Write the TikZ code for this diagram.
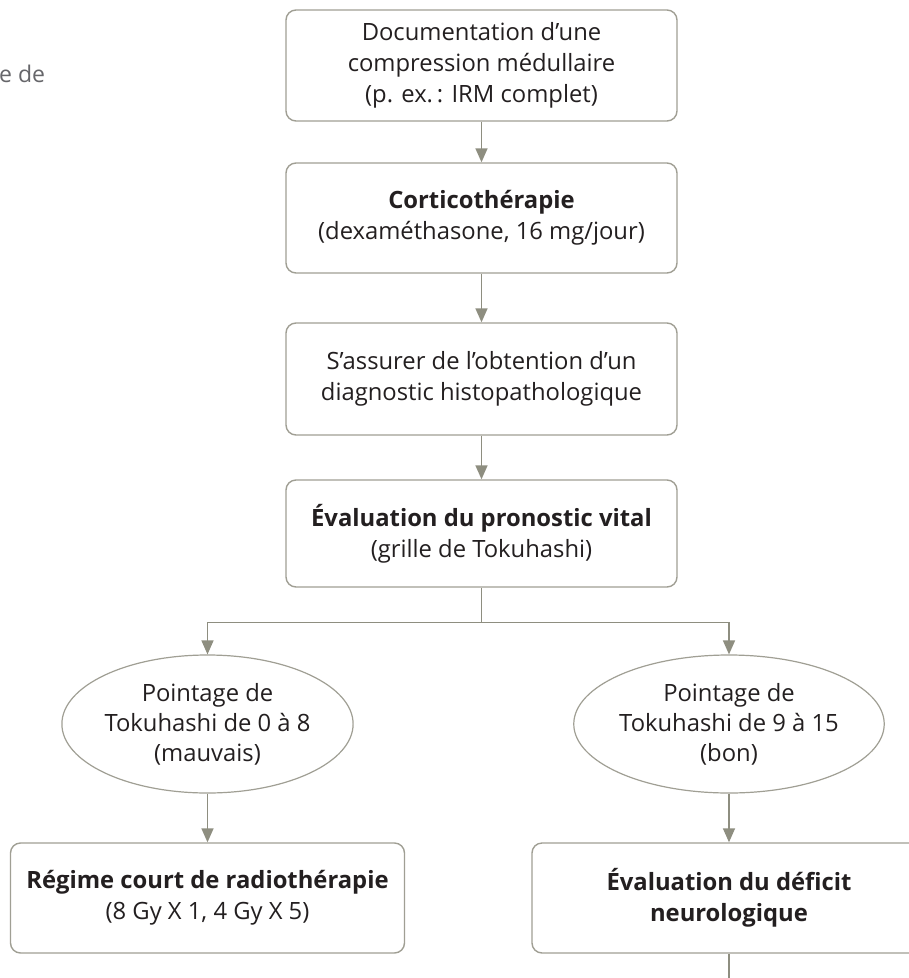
\documentclass[tikz,border=0pt]{standalone}
\usepackage{fontspec}
\setmainfont{Open Sans}
\usetikzlibrary{arrows.meta,shapes.geometric}
\definecolor{edgec}{HTML}{A09F94}
\definecolor{connc}{HTML}{8E8E80}
\definecolor{ink}{HTML}{231F20}
\definecolor{faint}{HTML}{66666A}
\begin{document}
\begin{tikzpicture}[x=1pt,y=-1pt,
  box/.style={draw=edgec, line width=1.4pt, rounded corners=10pt, minimum width=391pt,
    align=center, font=\fontsize{23.8}{31}\selectfont, text=ink, inner sep=0pt},
  oval/.style={ellipse, draw=edgec, line width=1.2pt, align=center,
    font=\fontsize{23.8}{30}\selectfont, text=ink, inner sep=0pt},
  link/.style={draw=connc, line width=1.5pt},
  arrowlink/.style={link, -{Triangle[width=12pt,length=14pt]}}]
\useasboundingbox (0,0) rectangle (909,978);
\clip (0,0) rectangle (909,978);
\fill[white] (0,0) rectangle (909,978);

\node[text=faint, font=\fontsize{23}{31}\selectfont, anchor=base west, inner sep=0pt] (frag) at (-1,82) {e de};

\node[box, minimum height=111pt] (b1) at (481.5,65.5) {Documentation d’une\\compression médullaire\\(p. ex.\,: IRM complet)};
\node[box, minimum height=110pt] (b2) at (481.5,218) {\textbf{Corticothérapie}\\(dexaméthasone, 16 mg/jour)};
\node[box, minimum height=112pt] (b3) at (481.5,379) {S’assurer de l’obtention d’un\\diagnostic histopathologique};
\node[box, minimum height=107pt] (b4) at (481.5,533.5) {\textbf{Évaluation du pronostic vital}\\(grille de Tokuhashi)};

\node[oval, minimum width=280pt, minimum height=138pt] (e1) at (207.5,724) {Pointage de\\Tokuhashi de 0 à 8\\(mauvais)};
\node[oval, minimum width=276pt, minimum height=138pt] (e2) at (729,724) {Pointage de\\Tokuhashi de 9 à 15\\(bon)};

\node[box, minimum width=394pt, minimum height=110pt] (lb) at (207.5,898) {\textbf{Régime court de radiothérapie}\\(8 Gy X 1, 4 Gy X 5)};
\node[box, minimum width=394pt, minimum height=110pt] (rb) at (729,898) {\textbf{Évaluation du déficit}\\\textbf{neurologique}};

\draw[arrowlink] (b1.south) -- (b2.north);
\draw[arrowlink] (b2.south) -- (b3.north);
\draw[arrowlink] (b3.south) -- (b4.north);
\draw[link] (b4.south) -- ++(0,35) coordinate (split);
\draw[arrowlink] (split) -| (e1.north);
\draw[arrowlink] (split) -| (e2.north);
\draw[arrowlink] (e1.south) -- (lb.north);
\draw[arrowlink] (e2.south) -- (rb.north);
\coordinate (down) at (729,990);
\draw[link] (rb.south) -- (down);
\end{tikzpicture}
\end{document}
